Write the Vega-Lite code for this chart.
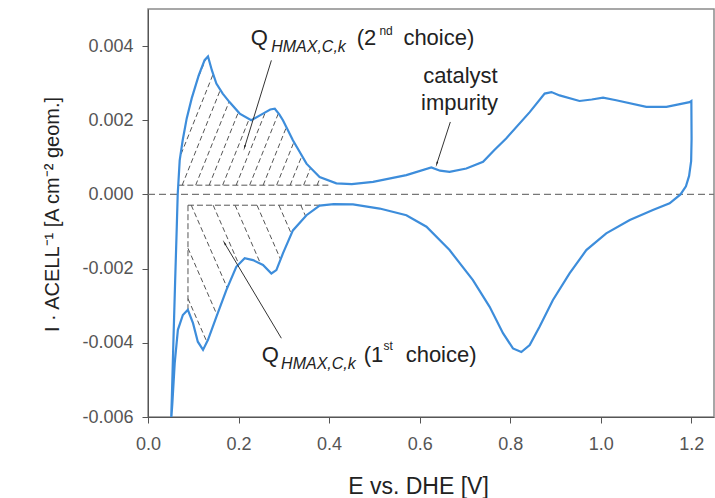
{
  "$schema": "https://vega.github.io/schema/vega-lite/v6.json",
  "width": 566,
  "height": 408,
  "autosize": {"type": "none"},
  "padding": {"left": 148, "top": 9, "right": 1, "bottom": 81},
  "background": "white",
  "config": {
    "font": "Liberation Sans",
    "view": {"stroke": "#8a8a8a", "strokeWidth": 1.5}
  },
  "datasets": {
    "cv": [
      {"i": 0, "branch": "a", "E": 0.0508, "I": -0.0062},
      {"i": 1, "branch": "a", "E": 0.0526, "I": -0.0055},
      {"i": 2, "branch": "a", "E": 0.0556, "I": -0.00419},
      {"i": 3, "branch": "a", "E": 0.060, "I": -0.00231},
      {"i": 4, "branch": "a", "E": 0.0634, "I": -0.00094},
      {"i": 5, "branch": "a", "E": 0.0656, "I": 0.0},
      {"i": 6, "branch": "a", "E": 0.070, "I": 0.00092},
      {"i": 7, "branch": "a", "E": 0.0766, "I": 0.00146},
      {"i": 8, "branch": "a", "E": 0.0855, "I": 0.00205},
      {"i": 9, "branch": "a", "E": 0.0965, "I": 0.00259},
      {"i": 10, "branch": "a", "E": 0.112, "I": 0.00321},
      {"i": 11, "branch": "a", "E": 0.125, "I": 0.00362},
      {"i": 12, "branch": "a", "E": 0.1325, "I": 0.00372},
      {"i": 13, "branch": "a", "E": 0.141, "I": 0.00335},
      {"i": 14, "branch": "a", "E": 0.151, "I": 0.00299},
      {"i": 15, "branch": "a", "E": 0.165, "I": 0.00272},
      {"i": 16, "branch": "a", "E": 0.180, "I": 0.00249},
      {"i": 17, "branch": "a", "E": 0.2025, "I": 0.00218},
      {"i": 18, "branch": "a", "E": 0.228, "I": 0.00200},
      {"i": 19, "branch": "a", "E": 0.254, "I": 0.00218},
      {"i": 20, "branch": "a", "E": 0.270, "I": 0.00229},
      {"i": 21, "branch": "a", "E": 0.280, "I": 0.00231},
      {"i": 22, "branch": "a", "E": 0.290, "I": 0.00216},
      {"i": 23, "branch": "a", "E": 0.298, "I": 0.00200},
      {"i": 24, "branch": "a", "E": 0.320, "I": 0.00146},
      {"i": 25, "branch": "a", "E": 0.350, "I": 0.00083},
      {"i": 26, "branch": "a", "E": 0.379, "I": 0.00047},
      {"i": 27, "branch": "a", "E": 0.416, "I": 0.00030},
      {"i": 28, "branch": "a", "E": 0.450, "I": 0.00028},
      {"i": 29, "branch": "a", "E": 0.497, "I": 0.00034},
      {"i": 30, "branch": "a", "E": 0.5705, "I": 0.00052},
      {"i": 31, "branch": "a", "E": 0.6257, "I": 0.00073},
      {"i": 32, "branch": "a", "E": 0.645, "I": 0.00064},
      {"i": 33, "branch": "a", "E": 0.666, "I": 0.00061},
      {"i": 34, "branch": "a", "E": 0.703, "I": 0.00070},
      {"i": 35, "branch": "a", "E": 0.740, "I": 0.00088},
      {"i": 36, "branch": "a", "E": 0.765, "I": 0.0012},
      {"i": 37, "branch": "a", "E": 0.791, "I": 0.00151},
      {"i": 38, "branch": "a", "E": 0.843, "I": 0.00222},
      {"i": 39, "branch": "a", "E": 0.876, "I": 0.00272},
      {"i": 40, "branch": "a", "E": 0.891, "I": 0.00276},
      {"i": 41, "branch": "a", "E": 0.909, "I": 0.00267},
      {"i": 42, "branch": "a", "E": 0.953, "I": 0.00252},
      {"i": 43, "branch": "a", "E": 0.980, "I": 0.00256},
      {"i": 44, "branch": "a", "E": 1.005, "I": 0.00261},
      {"i": 45, "branch": "a", "E": 1.034, "I": 0.00254},
      {"i": 46, "branch": "a", "E": 1.1005, "I": 0.00236},
      {"i": 47, "branch": "a", "E": 1.145, "I": 0.00236},
      {"i": 48, "branch": "a", "E": 1.196, "I": 0.00249},
      {"i": 49, "branch": "a", "E": 1.200, "I": 0.00252},
      {"i": 50, "branch": "c", "E": 1.2005, "I": 0.0015},
      {"i": 51, "branch": "c", "E": 1.1995, "I": 0.0009},
      {"i": 52, "branch": "c", "E": 1.195, "I": 0.0005},
      {"i": 53, "branch": "c", "E": 1.188, "I": 0.00022},
      {"i": 54, "branch": "c", "E": 1.176, "I": 0.0},
      {"i": 55, "branch": "c", "E": 1.152, "I": -0.00024},
      {"i": 56, "branch": "c", "E": 1.115, "I": -0.00042},
      {"i": 57, "branch": "c", "E": 1.064, "I": -0.00069},
      {"i": 58, "branch": "c", "E": 1.012, "I": -0.00105},
      {"i": 59, "branch": "c", "E": 0.968, "I": -0.0015},
      {"i": 60, "branch": "c", "E": 0.931, "I": -0.00213},
      {"i": 61, "branch": "c", "E": 0.894, "I": -0.00285},
      {"i": 62, "branch": "c", "E": 0.865, "I": -0.00356},
      {"i": 63, "branch": "c", "E": 0.843, "I": -0.00406},
      {"i": 64, "branch": "c", "E": 0.8245, "I": -0.00425},
      {"i": 65, "branch": "c", "E": 0.806, "I": -0.00415},
      {"i": 66, "branch": "c", "E": 0.784, "I": -0.00374},
      {"i": 67, "branch": "c", "E": 0.7545, "I": -0.00303},
      {"i": 68, "branch": "c", "E": 0.7176, "I": -0.00231},
      {"i": 69, "branch": "c", "E": 0.666, "I": -0.0015},
      {"i": 70, "branch": "c", "E": 0.615, "I": -0.00087},
      {"i": 71, "branch": "c", "E": 0.5706, "I": -0.00056},
      {"i": 72, "branch": "c", "E": 0.5117, "I": -0.00038},
      {"i": 73, "branch": "c", "E": 0.4527, "I": -0.00027},
      {"i": 74, "branch": "c", "E": 0.410, "I": -0.00026},
      {"i": 75, "branch": "c", "E": 0.379, "I": -0.00030},
      {"i": 76, "branch": "c", "E": 0.350, "I": -0.00056},
      {"i": 77, "branch": "c", "E": 0.320, "I": -0.00097},
      {"i": 78, "branch": "c", "E": 0.298, "I": -0.00159},
      {"i": 79, "branch": "c", "E": 0.2835, "I": -0.00204},
      {"i": 80, "branch": "c", "E": 0.2725, "I": -0.00213},
      {"i": 81, "branch": "c", "E": 0.254, "I": -0.0019},
      {"i": 82, "branch": "c", "E": 0.2318, "I": -0.00177},
      {"i": 83, "branch": "c", "E": 0.2135, "I": -0.00172},
      {"i": 84, "branch": "c", "E": 0.195, "I": -0.00195},
      {"i": 85, "branch": "c", "E": 0.173, "I": -0.00258},
      {"i": 86, "branch": "c", "E": 0.151, "I": -0.0033},
      {"i": 87, "branch": "c", "E": 0.1325, "I": -0.00392},
      {"i": 88, "branch": "c", "E": 0.1215, "I": -0.00419},
      {"i": 89, "branch": "c", "E": 0.110, "I": -0.00397},
      {"i": 90, "branch": "c", "E": 0.0994, "I": -0.00347},
      {"i": 91, "branch": "c", "E": 0.088, "I": -0.00311},
      {"i": 92, "branch": "c", "E": 0.077, "I": -0.00325},
      {"i": 93, "branch": "c", "E": 0.066, "I": -0.00365},
      {"i": 94, "branch": "c", "E": 0.059, "I": -0.00455},
      {"i": 95, "branch": "c", "E": 0.0538, "I": -0.00563},
      {"i": 96, "branch": "c", "E": 0.0505, "I": -0.0062}
    ],
    "seg": [
      {"kind": "hatch", "E": 0.06, "I": 0.00159, "E2": 0.1389, "I2": 0.0040},
      {"kind": "hatch", "E": 0.06, "I": 0.00069, "E2": 0.1687, "I2": 0.0040},
      {"kind": "hatch", "E": 0.0755, "I": 0.00025, "E2": 0.1985, "I2": 0.0040},
      {"kind": "hatch", "E": 0.1053, "I": 0.00025, "E2": 0.2283, "I2": 0.0040},
      {"kind": "hatch", "E": 0.1351, "I": 0.00025, "E2": 0.2581, "I2": 0.0040},
      {"kind": "hatch", "E": 0.1649, "I": 0.00025, "E2": 0.2879, "I2": 0.0040},
      {"kind": "hatch", "E": 0.1947, "I": 0.00025, "E2": 0.3177, "I2": 0.0040},
      {"kind": "hatch", "E": 0.2245, "I": 0.00025, "E2": 0.3475, "I2": 0.0040},
      {"kind": "hatch", "E": 0.2543, "I": 0.00025, "E2": 0.3773, "I2": 0.0040},
      {"kind": "hatch", "E": 0.2841, "I": 0.00025, "E2": 0.4071, "I2": 0.0040},
      {"kind": "hatch", "E": 0.3139, "I": 0.00025, "E2": 0.4369, "I2": 0.0040},
      {"kind": "hatch", "E": 0.3437, "I": 0.00025, "E2": 0.4667, "I2": 0.0040},
      {"kind": "hatch", "E": 0.3735, "I": 0.00025, "E2": 0.4965, "I2": 0.0040},
      {"kind": "hatch", "E": 0.0883, "I": -0.00281, "E2": 0.1668, "I2": -0.0050},
      {"kind": "hatch", "E": 0.0883, "I": -0.00145, "E2": 0.2149, "I2": -0.0050},
      {"kind": "hatch", "E": 0.0955, "I": -0.00029, "E2": 0.2635, "I2": -0.0050},
      {"kind": "hatch", "E": 0.1439, "I": -0.00029, "E2": 0.3119, "I2": -0.0050},
      {"kind": "hatch", "E": 0.1923, "I": -0.00029, "E2": 0.3603, "I2": -0.0050},
      {"kind": "hatch", "E": 0.2407, "I": -0.00029, "E2": 0.4087, "I2": -0.0050},
      {"kind": "hatch", "E": 0.2891, "I": -0.00029, "E2": 0.4571, "I2": -0.0050},
      {"kind": "hatch", "E": 0.3375, "I": -0.00029, "E2": 0.5055, "I2": -0.0050},
      {"kind": "bound", "E": 0.067, "I": 0.00025, "E2": 0.40, "I2": 0.00025},
      {"kind": "bound", "E": 0.0883, "I": -0.00029, "E2": 0.385, "I2": -0.00029},
      {"kind": "bound", "E": 0.0883, "I": -0.00029, "E2": 0.0883, "I2": -0.0031},
      {"kind": "zero", "E": 0.0, "I": 0.0, "E2": 1.25, "I2": 0.0}
    ],
    "arrows": [
      {"name": "q2", "E": 0.2725, "I": 0.003615, "E2": 0.2135, "I2": 0.00128},
      {"name": "q1", "E": 0.2945, "I": -0.003876, "E2": 0.1694, "I2": -0.001319},
      {"name": "cat", "E": 0.6677, "I": 0.001954, "E2": 0.638, "I2": 0.000834}
    ],
    "labels": [
      {"role": "main", "E": 0.2268, "I": 0.00402, "txt": "Q"},
      {"role": "main", "E": 0.4608, "I": 0.00402, "txt": "(2"},
      {"role": "main", "E": 0.5640, "I": 0.00402, "txt": "choice)"},
      {"role": "main", "E": 0.2511, "I": -0.004514, "txt": "Q"},
      {"role": "main", "E": 0.4763, "I": -0.004514, "txt": "(1"},
      {"role": "main", "E": 0.5690, "I": -0.004514, "txt": "choice)"},
      {"role": "sub", "E": 0.2720, "I": 0.00383, "txt": "HMAX,C,k"},
      {"role": "sub", "E": 0.2940, "I": -0.004703, "txt": "HMAX,C,k"},
      {"role": "sup", "E": 0.5110, "I": 0.004288, "txt": "nd"},
      {"role": "sup", "E": 0.5200, "I": -0.004191, "txt": "st"},
      {"role": "center", "E": 0.690, "I": 0.0030, "txt": "catalyst"},
      {"role": "center", "E": 0.688, "I": 0.00227, "txt": "impurity"}
    ]
  },
  "encoding": {
    "x": {
      "field": "E",
      "type": "quantitative",
      "scale": {"domain": [0, 1.25], "nice": false, "zero": false},
      "axis": {
        "title": "E vs. DHE [V]",
        "values": [0, 0.2, 0.4, 0.6, 0.8, 1.0, 1.2],
        "format": ".1f",
        "grid": false,
        "labelFlush": false,
        "tickSize": 6,
        "labelPadding": 12,
        "labelFontSize": 18,
        "labelColor": "#555555",
        "domainColor": "#555555",
        "tickColor": "#555555",
        "titleFontSize": 23,
        "titleFontWeight": "normal",
        "titleColor": "#222222",
        "titleX": 270,
        "titleY": 76,
        "titleAlign": "center",
        "titleBaseline": "alphabetic"
      }
    },
    "y": {
      "field": "I",
      "type": "quantitative",
      "scale": {"domain": [-0.006, 0.005], "nice": false, "zero": false},
      "axis": {
        "title": "I · ACELL⁻¹ [A cm⁻² geom.]",
        "values": [-0.006, -0.004, -0.002, 0, 0.002, 0.004],
        "labelExpr": "replace(format(datum.value, '.3f'), '\u2212', '-')",
        "grid": false,
        "labelFlush": false,
        "tickSize": 6,
        "labelPadding": 9,
        "labelFontSize": 18,
        "labelColor": "#555555",
        "domainColor": "#555555",
        "tickColor": "#555555",
        "titleFontSize": 20,
        "titleFontWeight": "normal",
        "titleColor": "#222222",
        "titleAngle": -90,
        "titleX": -90,
        "titleY": 205,
        "titleAlign": "center",
        "titleBaseline": "alphabetic"
      }
    }
  },
  "layer": [
    {
      "data": {"name": "seg"},
      "transform": [{"filter": "datum.kind === 'hatch'"}],
      "mark": {"type": "rule", "color": "#555555", "strokeWidth": 1, "strokeDash": [5, 3]},
      "encoding": {"x2": {"field": "E2"}, "y2": {"field": "I2"}}
    },
    {
      "data": {"name": "cv"},
      "transform": [{"filter": "datum.branch === 'a' && datum.E >= 0.055 && datum.E <= 0.58"}],
      "mark": {"type": "area", "color": "white", "opacity": 1, "interpolate": "linear"},
      "encoding": {"y2": {"datum": 0.0045}}
    },
    {
      "data": {"name": "cv"},
      "transform": [{"filter": "datum.branch === 'c' && datum.E >= 0.085 && datum.E <= 0.53"}],
      "mark": {"type": "area", "color": "white", "opacity": 1, "interpolate": "linear"},
      "encoding": {"y2": {"datum": -0.0055}}
    },
    {
      "data": {"name": "seg"},
      "transform": [{"filter": "datum.kind === 'bound'"}],
      "mark": {"type": "rule", "color": "#555555", "strokeWidth": 1, "strokeDash": [6, 3]},
      "encoding": {"x2": {"field": "E2"}, "y2": {"field": "I2"}}
    },
    {
      "data": {"name": "seg"},
      "transform": [{"filter": "datum.kind === 'zero'"}],
      "mark": {"type": "rule", "color": "#777777", "strokeWidth": 1.3, "strokeDash": [7, 4]},
      "encoding": {"x2": {"field": "E2"}, "y2": {"field": "I2"}}
    },
    {
      "data": {"name": "cv"},
      "mark": {"type": "line", "color": "#3d8ddb", "strokeWidth": 2.2, "clip": true, "interpolate": "linear"},
      "encoding": {"order": {"field": "i", "type": "quantitative"}}
    },
    {
      "data": {"name": "arrows"},
      "mark": {"type": "rule", "color": "#333333", "strokeWidth": 1},
      "encoding": {"x2": {"field": "E2"}, "y2": {"field": "I2"}}
    },
    {
      "data": {"name": "arrows"},
      "transform": [{"filter": "datum.name === 'q2'"}],
      "mark": {"type": "point", "shape": "wedge", "filled": true, "color": "#222222", "size": 45, "angle": 196.5, "opacity": 1},
      "encoding": {"x": {"field": "E2", "type": "quantitative"}, "y": {"field": "I2", "type": "quantitative"}}
    },
    {
      "data": {"name": "arrows"},
      "transform": [{"filter": "datum.name === 'q1'"}],
      "mark": {"type": "point", "shape": "wedge", "filled": true, "color": "#222222", "size": 45, "angle": 329.2, "opacity": 1},
      "encoding": {"x": {"field": "E2", "type": "quantitative"}, "y": {"field": "I2", "type": "quantitative"}}
    },
    {
      "data": {"name": "arrows"},
      "transform": [{"filter": "datum.name === 'cat'"}],
      "mark": {"type": "point", "shape": "wedge", "filled": true, "color": "#222222", "size": 45, "angle": 197.9, "opacity": 1},
      "encoding": {"x": {"field": "E2", "type": "quantitative"}, "y": {"field": "I2", "type": "quantitative"}}
    },
    {
      "data": {"name": "labels"},
      "transform": [{"filter": "datum.role === 'main'"}],
      "mark": {"type": "text", "align": "left", "baseline": "alphabetic", "fontSize": 22, "color": "#222222"},
      "encoding": {"text": {"field": "txt"}}
    },
    {
      "data": {"name": "labels"},
      "transform": [{"filter": "datum.role === 'sub'"}],
      "mark": {"type": "text", "align": "left", "baseline": "alphabetic", "fontSize": 16, "fontStyle": "italic", "color": "#222222"},
      "encoding": {"text": {"field": "txt"}}
    },
    {
      "data": {"name": "labels"},
      "transform": [{"filter": "datum.role === 'sup'"}],
      "mark": {"type": "text", "align": "left", "baseline": "alphabetic", "fontSize": 12, "color": "#222222"},
      "encoding": {"text": {"field": "txt"}}
    },
    {
      "data": {"name": "labels"},
      "transform": [{"filter": "datum.role === 'center'"}],
      "mark": {"type": "text", "align": "center", "baseline": "alphabetic", "fontSize": 22, "color": "#222222"},
      "encoding": {"text": {"field": "txt"}}
    }
  ]
}
